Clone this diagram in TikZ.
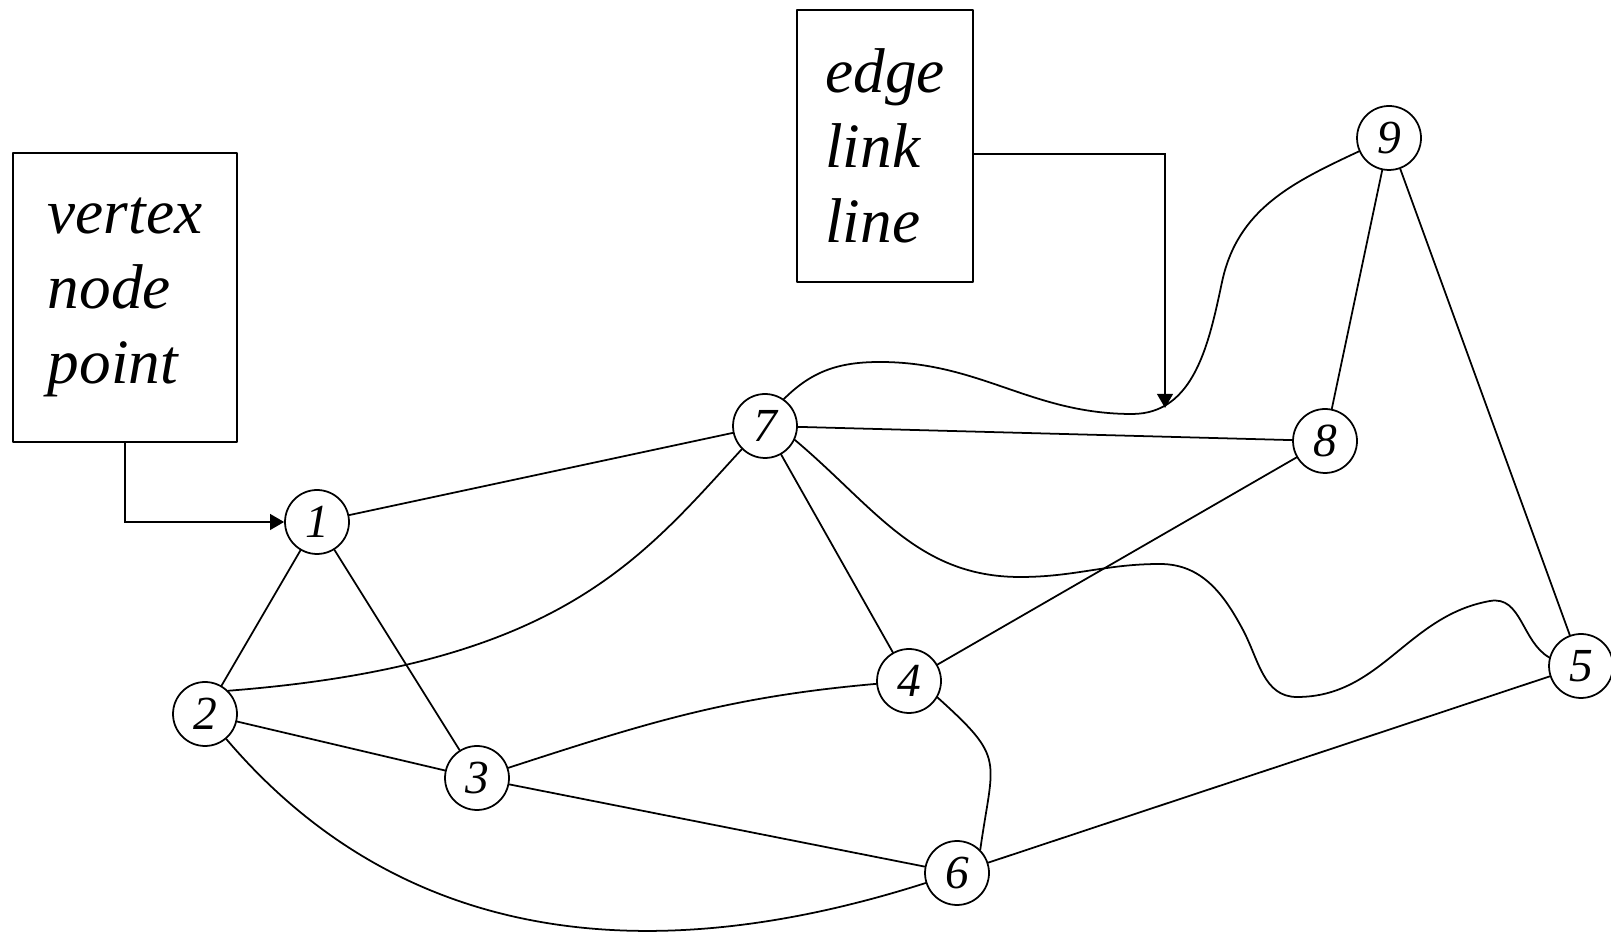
\documentclass[tikz,border=0pt]{standalone}
\usepackage{fontspec}
\setmainfont{Liberation Serif}
\usetikzlibrary{positioning}
\usetikzlibrary{arrows.meta}

\tikzset{
	vert/.style={circle,draw,line width=1pt,minimum size=1.28cm,inner sep=0pt,font=\fontsize{27}{27}\selectfont\itshape},
	lbox/.style={draw,line width=1.1pt,align=left,inner sep=0pt,font=\fontsize{36}{42.5}\selectfont\itshape},
	arr/.style={-{Triangle[length=8pt,width=9pt]},line width=1pt}
}

\begin{document}
\begin{tikzpicture}[line cap=round,line join=round,x=0.02cm,y=0.02cm,line width=1pt]
	\useasboundingbox (0,0) rectangle (1611,932);
	% vertices
	\node[vert] (v1) at (317,410) {1};
	\node[vert] (v2) at (205,218) {2};
	\node[vert] (v3) at (477,154) {3};
	\node[vert] (v4) at (909,251) {4};
	\node[vert] (v5) at (1581,266) {5};
	\node[vert] (v6) at (957,59) {6};
	\node[vert] (v7) at (765,506) {7};
	\node[vert] (v8) at (1325,491) {8};
	\node[vert] (v9) at (1389,794) {9};
	% labels
	\node[lbox,minimum width=4.48cm,minimum height=5.78cm] (vbox) at (125,634.5) {vertex\\node\\point};
	\node[lbox,minimum width=3.52cm,minimum height=5.44cm] (ebox) at (885,786) {edge\\link\\line};
	\coordinate (tip) at (1165,524);
	% straight edges
	\draw (v1) -- (v7);
	\draw (v1) -- (v2);
	\draw (v1) -- (v3);
	\draw (v2) -- (v3);
	\draw (v3) -- (v6);
	\draw (v7) -- (v8);
	\draw (v7) -- (v4);
	\draw (v4) -- (v8);
	\draw (v9) -- (v8);
	\draw (v9) -- (v5);
	\draw (v5) -- (v6);
	% curved edges
	\draw (v2.45) .. controls (560,267) and (640,372) .. (v7.-135);
	\draw (v2) .. controls (375,18) and (600,-55) .. (v6);
	\draw (v3) to[out=18,in=185] (v4);
	\draw (v4.-30) to[out=-42,in=82,looseness=1.5] (v6.45);
	\draw (v7.55) to[out=45,in=180] (880,570) to[out=0,in=180] (1132,518)
		to[out=0,in=258] (1222,650) to[out=78,in=205] (v9.204);
	\draw (v7.-25) to[out=-40,in=180] (1020,355) to[out=0,in=180] (1160,368)
		to[out=0,in=118] (1243,302) to[out=-62,in=180] (1297,235)
		to[out=0,in=190] (1490,331) to[out=10,in=150] (v5.165);
	% pointers
	\draw[arr,line join=miter] (vbox.south) |- (v1);
	\draw[arr,line join=miter] ([yshift=-0.16cm]ebox.east) -| (tip);
\end{tikzpicture}
\end{document}
